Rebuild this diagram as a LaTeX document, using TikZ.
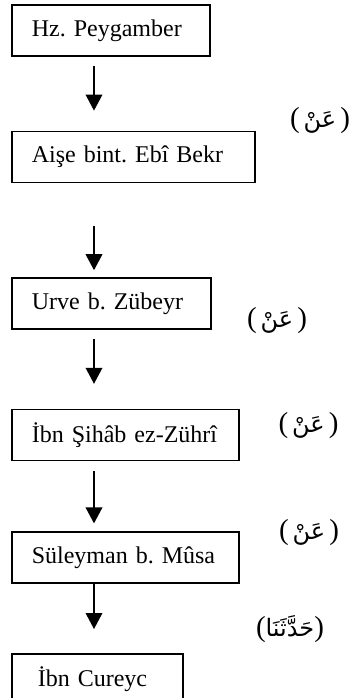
\documentclass[tikz,border=0pt]{standalone}
\usepackage{fontspec}
\setmainfont{Liberation Serif}
\newfontfamily\arabicfont[Script=Arabic]{DejaVu Sans}
\TeXXeTstate=1
\frenchspacing
\usetikzlibrary{arrows.meta,positioning}
\definecolor{Ink}{HTML}{000000}
\definecolor{Paper}{HTML}{FFFFFF}
\tikzset{
  narrator/.style={
    draw=Ink, line width=0.8pt, fill=Paper,
    minimum height=25.5pt, inner xsep=10pt, align=left,
    font=\fontsize{12}{14}\selectfont\frenchspacing
  },
  term/.style={
    inner sep=0pt, text=Ink, font=\fontsize{14.5}{17}\selectfont
  },
  isnad/.style={-{Triangle[length=8pt,width=8.3pt]}, line width=0.8pt, draw=Ink}
}

\begin{document}
\begin{tikzpicture}[x=0.5pt,y=-0.5pt]
    \useasboundingbox[fill=Paper] (0,0) rectangle (353,698);
    \coordinate (axis) at (94,0);
    \node[narrator,anchor=north west,text width=79pt] (prophet) at (11,4) {Hz. Peygamber};
    \node[narrator,below=37pt of prophet.south west,anchor=north west,text width=101.5pt] (aise) {Aişe bint. Ebî Bekr};
    \node[narrator,below=47pt of aise.south west,anchor=north west,text width=79.5pt] (urve) {Urve b. Zübeyr};
    \node[narrator,below=39.5pt of urve.south west,anchor=north west,text width=93.5pt] (zuhri) {İbn Şihâb ez-Zührî};
    \node[narrator,below=35pt of zuhri.south west,anchor=north west,text width=93.5pt] (suleyman) {Süleyman b. Mûsa};
    \node[narrator,below=34.5pt of suleyman.south west,anchor=north west,inner xsep=13pt,text width=59.5pt] (cureyc) {İbn Cureyc};
    \draw[isnad,shorten <=4.5pt,shorten >=10pt] (prophet.south -| axis) -- (aise.north -| axis);
    \draw[isnad,shorten <=21.5pt,shorten >=3.5pt] (aise.south -| axis) -- (urve.north -| axis);
    \draw[isnad,shorten <=4.5pt,shorten >=12.5pt] (urve.south -| axis) -- (zuhri.north -| axis);
    \draw[isnad,shorten <=5pt,shorten >=4pt] (zuhri.south -| axis) -- (suleyman.north -| axis);
    \draw[isnad,shorten >=12pt] (suleyman.south -| axis) -- (cureyc.north -| axis);
    \node[term] (an1) at (320,121) {(\hspace{2pt}{\arabicfont\fontsize{12}{14}\selectfont\beginR عَنْ\endR}\hspace{2pt})};
    \node[term] (an2) at (277,321) {(\hspace{2pt}{\arabicfont\fontsize{12}{14}\selectfont\beginR عَنْ\endR}\hspace{2pt})};
    \node[term] (an3) at (308.5,426) {(\hspace{2pt}{\arabicfont\fontsize{12}{14}\selectfont\beginR عَنْ\endR}\hspace{2pt})};
    \node[term] (an4) at (309,533) {(\hspace{2pt}{\arabicfont\fontsize{12}{14}\selectfont\beginR عَنْ\endR}\hspace{2pt})};
    \node[term] (haddesena) at (290,629) {({\arabicfont\fontsize{12}{14}\selectfont\beginR حَدَّثَنَا\endR})};
  \end{tikzpicture}
\end{document}
